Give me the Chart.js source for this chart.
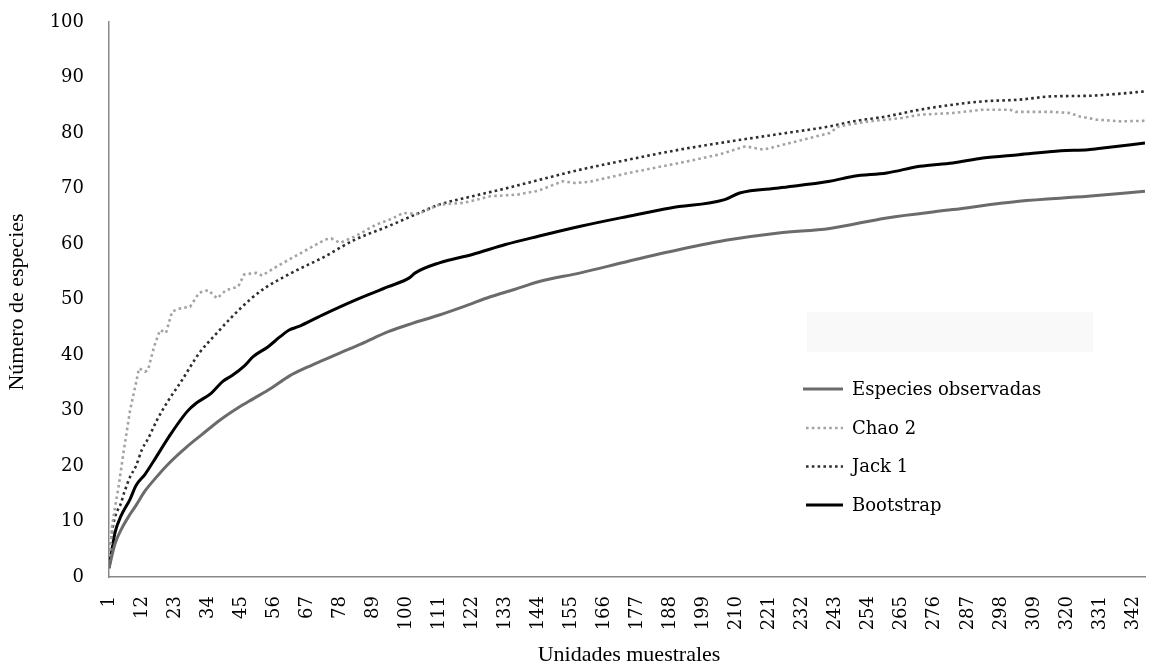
<!DOCTYPE html>
<html>
<head>
<meta charset="utf-8">
<script src="https://cdn.jsdelivr.net/npm/chart.js@4"></script>
<style>
  html, body { margin: 0; padding: 0; background: #ffffff; }
  #wrap { position: relative; width: 1153px; height: 669px; }
</style>
</head>
<body>
<div id="wrap"><canvas id="c"></canvas></div>
<script>
// ---- Data ----
const seriesNames = ["Especies observadas", "Chao 2", "Jack 1", "Bootstrap"];

const xObs = [1, 3, 5, 8, 10, 13, 16, 21, 27, 32, 38, 44, 49, 55, 61, 67, 72, 78, 85, 94, 102, 111, 120, 128, 136, 144, 158, 174, 191, 208, 224, 241, 260, 282, 304, 327, 346];
const yObs = [1.6, 6.0, 8.5, 11.3, 12.9, 15.5, 17.5, 20.5, 23.5, 25.7, 28.3, 30.5, 32.1, 34.0, 36.2, 37.8, 39.0, 40.4, 42.0, 44.2, 45.7, 47.2, 48.9, 50.5, 51.8, 53.2, 54.8, 56.9, 59.0, 60.8, 62.0, 62.8, 64.7, 66.2, 67.7, 68.6, 69.5];

const xChao = [1, 2, 3, 4, 6, 8, 10, 11, 13, 14, 16, 18, 20, 22, 24, 28, 31, 34, 37, 40, 44, 46, 50, 52, 54, 58, 63, 68, 73, 75, 78, 83, 90, 95, 99, 104, 111, 119, 128, 137, 144, 152, 156, 161, 174, 191, 204, 213, 219, 230, 241, 244, 254, 265, 271, 282, 292, 301, 303, 315, 321, 324, 330, 338, 346];
const yChao = [1.6, 9.0, 12.6, 15.6, 23.0, 30.0, 35.0, 37.6, 37.0, 37.3, 41.5, 44.5, 44.0, 47.8, 48.3, 48.7, 51.2, 51.7, 50.2, 51.7, 52.3, 54.5, 54.8, 54.3, 55.0, 56.3, 57.8, 59.3, 60.8, 61.0, 60.2, 61.4, 63.5, 64.5, 65.6, 65.4, 67.1, 67.4, 68.6, 68.9, 69.6, 71.3, 71.0, 71.2, 72.8, 74.6, 76.1, 77.6, 77.0, 78.5, 80.0, 81.2, 82.1, 82.7, 83.3, 83.6, 84.2, 84.2, 83.8, 83.8, 83.6, 83.0, 82.4, 82.1, 82.2];

const xJack = [1, 2, 3, 5, 6, 8, 10, 12, 14, 17, 21, 25, 31, 37, 42, 48, 53, 59, 64, 72, 83, 94, 103, 111, 122, 133, 141, 158, 174, 191, 208, 224, 241, 249, 260, 271, 282, 292, 304, 315, 327, 338, 346];
const yJack = [1.6, 8.0, 10.8, 13.3, 15.1, 18.0, 20.0, 23.0, 24.9, 28.3, 32.0, 35.2, 40.3, 44.0, 46.9, 50.0, 52.1, 54.0, 55.4, 57.5, 60.8, 63.2, 65.3, 67.1, 68.6, 70.0, 71.1, 73.4, 75.2, 77.0, 78.5, 79.8, 81.2, 82.1, 83.0, 84.2, 85.1, 85.7, 86.0, 86.6, 86.7, 87.1, 87.5];

const xBoot = [1, 3, 5, 8, 10, 13, 16, 21, 27, 30, 35, 39, 42, 46, 49, 54, 58, 61, 64, 72, 83, 94, 101, 103, 111, 122, 133, 144, 158, 174, 188, 206, 211, 224, 241, 249, 260, 271, 282, 292, 304, 318, 327, 332, 346];
const yBoot = [1.6, 8.0, 11.0, 14.0, 16.5, 18.5, 21.0, 25.3, 29.8, 31.3, 33.1, 35.3, 36.3, 38.0, 39.7, 41.5, 43.3, 44.5, 45.1, 47.2, 49.9, 52.3, 53.9, 54.8, 56.6, 58.1, 59.9, 61.4, 63.2, 65.0, 66.5, 68.0, 69.2, 70.1, 71.3, 72.2, 72.8, 74.0, 74.6, 75.5, 76.1, 76.8, 77.0, 77.3, 78.2];

const xTicks = [1, 12, 23, 34, 45, 56, 67, 78, 89, 100, 111, 122, 133, 144, 155, 166, 177, 188, 199, 210, 221, 232, 243, 254, 265, 276, 287, 298, 309, 320, 331, 342];
const xMin = 1, xMax = 346;
const yMin = 0, yMax = 100, yStep = 10;

const xTitle = "Unidades muestrales";
const yTitle = "Número de especies";

// ---- Chart ----
const pts = (xs, ys) => xs.map((x, i) => ({ x: x, y: ys[i] }));
const tickFont = { family: "'DejaVu Serif', serif", size: 18 };

const styles = [
  { color: '#6b6b6b', width: 3, dash: [] },
  { color: '#a3a3a3', width: 2.6, dash: [2.6, 3.2] },
  { color: '#2e2e2e', width: 2.6, dash: [2.6, 3.2] },
  { color: '#000000', width: 3, dash: [] }
];

const datasets = [
  pts(xObs, yObs), pts(xChao, yChao), pts(xJack, yJack), pts(xBoot, yBoot)
].map((d, i) => ({
  label: seriesNames[i],
  data: d,
  borderColor: styles[i].color,
  backgroundColor: styles[i].color,
  borderWidth: styles[i].width,
  borderDash: styles[i].dash,
  borderCapStyle: 'butt',
  pointRadius: 0,
  tension: i === 1 ? 0 : 0.3,
  cubicInterpolationMode: i === 1 ? 'default' : 'monotone',
  fill: false
}));

const overlay = {
  id: 'overlay',
  beforeDatasetsDraw(chart) {
    const ctx = chart.ctx;
    ctx.save();
    ctx.fillStyle = '#f9f9f9';
    ctx.fillRect(807, 312, 286, 40);
    ctx.restore();
  },
  afterDraw(chart) {
    const ctx = chart.ctx;
    ctx.save();
    // axis titles
    ctx.fillStyle = '#000';
    ctx.font = "22px 'Liberation Serif', serif";
    ctx.textAlign = 'center';
    ctx.textBaseline = 'middle';
    ctx.fillText(xTitle, 629, 655);
    ctx.save();
    ctx.translate(17, 302);
    ctx.rotate(-Math.PI / 2);
    ctx.fillText(yTitle, 0, 0);
    ctx.restore();
    // legend
    const rows = [389, 428, 466.5, 505];
    chart.data.datasets.forEach((ds, i) => {
      const y = rows[i];
      ctx.beginPath();
      ctx.strokeStyle = ds.borderColor;
      ctx.lineWidth = ds.borderWidth;
      ctx.setLineDash(ds.borderDash || []);
      ctx.moveTo(i === 0 ? 803 : 806, y);
      ctx.lineTo(843, y);
      ctx.stroke();
      ctx.setLineDash([]);
      ctx.fillStyle = '#000';
      ctx.font = "18px 'DejaVu Serif', serif";
      ctx.textAlign = 'left';
      ctx.textBaseline = 'middle';
      ctx.fillText(ds.label, 852, y + 1);
    });
    ctx.restore();
  }
};

new Chart(document.getElementById('c'), {
  type: 'line',
  data: { datasets: datasets },
  options: {
    responsive: true,
    maintainAspectRatio: false,
    animation: false,
    layout: { padding: { top: 22, right: 8, left: 0, bottom: 0 } },
    plugins: { legend: { display: false }, tooltip: { enabled: false } },
    scales: {
      x: {
        type: 'linear',
        min: xMin,
        max: xMax,
        offset: false,
        grid: { display: false, drawTicks: false },
        border: { display: true, color: '#888888', width: 1.5 },
        afterBuildTicks(scale) { scale.ticks = xTicks.map(v => ({ value: v })); },
        afterFit(scale) {
          scale.height = 92;
          scale.paddingLeft = 0; scale.paddingRight = 0;
          scale.paddingTop = 0; scale.paddingBottom = 0;
        },
        ticks: {
          autoSkip: false,
          minRotation: 90,
          maxRotation: 90,
          padding: 19,
          color: '#000',
          font: tickFont,
          callback: v => String(v)
        }
      },
      y: {
        min: yMin,
        max: yMax,
        grid: { display: false, drawTicks: false },
        border: { display: true, color: '#888888', width: 1.5 },
        afterFit(scale) {
          scale.width = 109;
          scale.paddingLeft = 0; scale.paddingRight = 0;
          scale.paddingTop = 0; scale.paddingBottom = 0;
        },
        ticks: {
          stepSize: yStep,
          padding: 25,
          color: '#000',
          font: tickFont
        }
      }
    }
  },
  plugins: [overlay]
});
</script>
</body>
</html>
